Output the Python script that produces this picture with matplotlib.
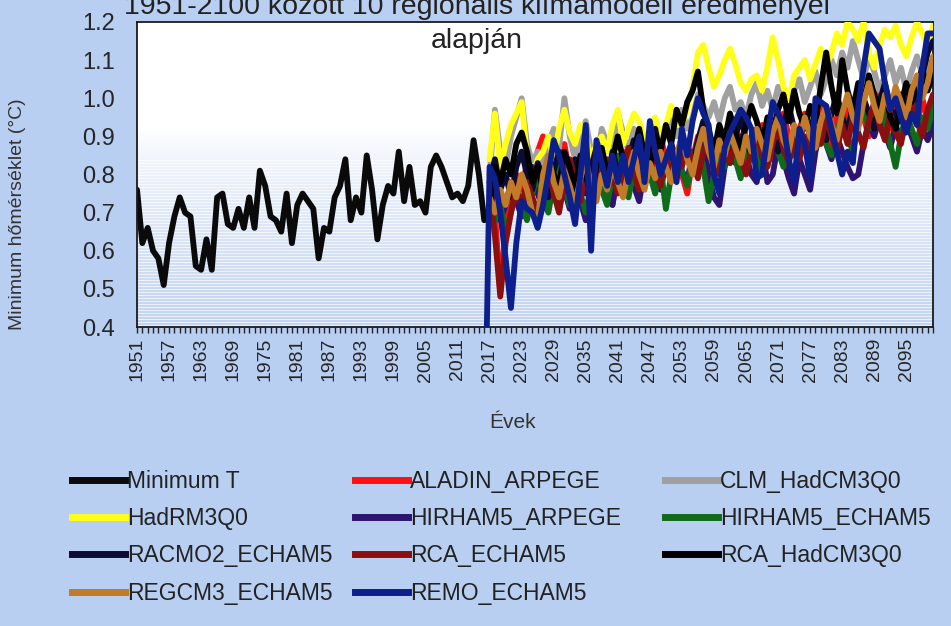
import numpy as np
import matplotlib.pyplot as plt
from matplotlib.lines import Line2D

plt.rcParams.update({
    "font.family": ["Liberation Sans", "DejaVu Sans"],
    "text.color": "#222222",
})

years = np.arange(1951, 2101)
obs_years = np.arange(1951, 2017)
model_years = np.arange(2016, 2101)

# observed minimum temperature anomaly, 1951-2016
min_t = [0.76, 0.62, 0.66, 0.60, 0.58, 0.51, 0.62, 0.69, 0.74, 0.70,
         0.69, 0.56, 0.55, 0.63, 0.55, 0.74, 0.75, 0.67, 0.66, 0.71,
         0.66, 0.74, 0.66, 0.81, 0.77, 0.69, 0.68, 0.65, 0.75, 0.62,
         0.72, 0.75, 0.73, 0.71, 0.58, 0.66, 0.65, 0.74, 0.77, 0.84,
         0.68, 0.74, 0.70, 0.85, 0.76, 0.63, 0.72, 0.77, 0.75, 0.86,
         0.73, 0.82, 0.72, 0.73, 0.70, 0.82, 0.85, 0.82, 0.78, 0.74,
         0.75, 0.73, 0.77, 0.89, 0.80, 0.68]

nan = np.nan
# regional climate models, 2016-2100 (2016 only set where the source row had it)
aladin_arpege = [nan,
    0.78, 0.70, 0.49, 0.66, 0.74, 0.80, 0.76, 0.83, 0.79, 0.86,
    0.90, 0.84, 0.78, 0.82, 0.88, 0.80, 0.76, 0.84, 0.80, 0.72,
    0.80, 0.84, 0.78, 0.72, 0.82, 0.86, 0.80, 0.88, 0.84, 0.78,
    0.86, 0.82, 0.90, 0.84, 0.80, 0.86, 0.80, 0.75, 0.84, 0.90,
    0.86, 0.82, 0.88, 0.84, 0.90, 0.86, 0.93, 0.88, 0.84, 0.90,
    0.86, 0.93, 0.88, 0.84, 0.91, 0.96, 0.90, 0.86, 0.92, 0.96,
    0.90, 0.95, 0.99, 0.93, 0.88, 0.95, 0.91, 0.97, 0.92, 1.00,
    0.95, 0.90, 0.97, 1.02, 0.96, 0.92, 0.99, 0.94, 1.03, 0.97,
    0.93, 1.00, 0.94, 0.96]
clm_hadcm3q0 = [nan,
    0.80, 0.97, 0.86, 0.82, 0.90, 0.95, 1.00, 0.88, 0.83, 0.86,
    0.82, 0.88, 0.92, 0.87, 1.00, 0.90, 0.84, 0.89, 0.94, 0.86,
    0.83, 0.92, 0.88, 0.85, 0.96, 0.91, 0.86, 0.92, 0.88, 0.84,
    0.90, 0.93, 0.87, 0.91, 0.95, 0.90, 0.97, 0.92, 0.95, 1.01,
    0.98, 0.95, 0.99, 0.94, 1.00, 1.03, 0.97, 0.99, 0.95, 1.01,
    1.04, 0.98, 1.02, 0.97, 1.03, 1.00, 0.96, 1.02, 1.05, 0.99,
    1.03, 1.07, 1.01, 1.05, 1.10, 1.06, 1.12, 1.08, 1.15, 1.10,
    1.05, 1.11, 1.07, 1.02, 1.06, 1.10, 1.04, 1.08, 1.02, 1.07,
    1.11, 1.06, 1.09, 1.10]
hadrm3q0 = [nan,
    0.84, 0.96, 0.82, 0.88, 0.93, 0.96, 0.99, 0.85, 0.80, 0.84,
    0.86, 0.90, 0.84, 0.92, 0.97, 0.91, 0.88, 0.93, 0.90, 0.84,
    0.88, 0.90, 0.86, 0.93, 0.97, 0.88, 0.92, 0.96, 0.94, 0.89,
    0.92, 0.95, 0.90, 0.93, 0.98, 0.93, 0.93, 0.97, 1.03, 1.12,
    1.14, 1.08, 1.03, 1.06, 1.10, 1.13, 1.09, 1.04, 1.02, 1.05,
    1.06, 1.02, 1.08, 1.16, 1.10, 1.03, 0.99, 1.06, 1.08, 1.10,
    1.05, 1.09, 1.13, 1.08, 1.12, 1.17, 1.14, 1.20, 1.18, 1.15,
    1.20, 1.12, 1.08, 1.14, 1.18, 1.16, 1.19, 1.14, 1.11, 1.16,
    1.20, 1.17, 1.14, 1.19]
hirham5_arpege = [nan,
    0.70, 0.76, 0.68, 0.72, 0.78, 0.73, 0.69, 0.76, 0.82, 0.75,
    0.71, 0.78, 0.74, 0.80, 0.76, 0.71, 0.78, 0.73, 0.68, 0.69,
    0.77, 0.83, 0.76, 0.72, 0.80, 0.76, 0.82, 0.77, 0.73, 0.81,
    0.86, 0.80, 0.76, 0.83, 0.79, 0.85, 0.81, 0.78, 0.86, 0.82,
    0.88, 0.80, 0.74, 0.72, 0.82, 0.87, 0.83, 0.90, 0.85, 0.80,
    0.78, 0.87, 0.78, 0.80, 0.88, 0.84, 0.79, 0.75, 0.84, 0.80,
    0.76, 0.86, 0.92, 0.88, 0.84, 0.90, 0.86, 0.82, 0.79, 0.80,
    0.88, 0.94, 0.90, 0.95, 0.91, 0.87, 0.93, 0.89, 0.94, 0.90,
    0.86, 0.92, 0.89, 0.93]
hirham5_echam5 = [nan,
    0.74, 0.68, 0.72, 0.65, 0.70, 0.76, 0.72, 0.68, 0.75, 0.80,
    0.74, 0.70, 0.78, 0.83, 0.77, 0.72, 0.79, 0.75, 0.70, 0.77,
    0.82, 0.76, 0.72, 0.80, 0.85, 0.79, 0.74, 0.81, 0.77, 0.84,
    0.80, 0.75, 0.82, 0.71, 0.80, 0.86, 0.81, 0.77, 0.84, 0.88,
    0.82, 0.73, 0.80, 0.86, 0.82, 0.88, 0.84, 0.79, 0.86, 0.90,
    0.84, 0.80, 0.87, 0.92, 0.86, 0.82, 0.89, 0.85, 0.91, 0.87,
    0.83, 0.90, 0.94, 0.88, 0.85, 0.91, 0.96, 0.90, 0.86, 0.93,
    0.97, 0.92, 0.95, 1.00, 0.94, 0.88, 0.82, 0.90, 0.96, 0.92,
    0.88, 0.95, 0.92, 0.98]
racmo2_echam5 = [nan,
    0.78, 0.84, 0.76, 0.80, 0.74, 0.82, 0.86, 0.80, 0.76, 0.83,
    0.79, 0.74, 0.81, 0.86, 0.80, 0.77, 0.84, 0.79, 0.75, 0.82,
    0.87, 0.81, 0.78, 0.86, 0.81, 0.77, 0.84, 0.89, 0.83, 0.80,
    0.87, 0.92, 0.85, 0.81, 0.88, 0.84, 0.90, 0.86, 0.82, 0.89,
    0.94, 0.88, 0.84, 0.91, 0.87, 0.83, 0.90, 0.95, 0.89, 0.85,
    0.92, 0.88, 0.94, 0.90, 0.86, 0.93, 0.98, 0.92, 0.88, 0.95,
    0.91, 0.97, 0.93, 0.89, 0.96, 1.01, 0.95, 0.91, 0.98, 0.94,
    1.00, 0.96, 0.92, 0.99, 1.04, 0.98, 0.94, 1.01, 0.97, 1.03,
    0.99, 1.06, 1.12, 1.15]
rca_echam5 = [nan,
    0.76, 0.64, 0.48, 0.62, 0.70, 0.76, 0.72, 0.78, 0.74, 0.70,
    0.77, 0.82, 0.75, 0.70, 0.78, 0.84, 0.79, 0.73, 0.80, 0.76,
    0.82, 0.78, 0.84, 0.80, 0.75, 0.82, 0.87, 0.80, 0.76, 0.83,
    0.88, 0.82, 0.77, 0.85, 0.80, 0.86, 0.82, 0.88, 0.83, 0.79,
    0.86, 0.90, 0.84, 0.80, 0.87, 0.83, 0.89, 0.85, 0.80, 0.86,
    0.91, 0.85, 0.82, 0.88, 0.93, 0.87, 0.83, 0.89, 0.84, 0.90,
    0.86, 0.92, 0.88, 0.95, 0.90, 0.86, 0.93, 0.88, 0.95, 0.91,
    0.87, 0.94, 0.99, 0.93, 0.89, 0.96, 0.91, 0.88, 0.95, 1.00,
    0.94, 0.90, 0.97, 1.01]
rca_hadcm3q0 = [nan,
    0.72, 0.82, 0.78, 0.84, 0.80, 0.88, 0.91, 0.86, 0.78, 0.82,
    0.76, 0.84, 0.80, 0.77, 0.86, 0.82, 0.76, 0.85, 0.80, 0.74,
    0.82, 0.87, 0.80, 0.84, 0.90, 0.84, 0.79, 0.86, 0.92, 0.85,
    0.82, 0.90, 0.86, 0.93, 0.88, 0.97, 0.93, 0.99, 1.02, 1.07,
    0.97, 0.92, 0.86, 0.93, 0.89, 0.96, 0.91, 0.86, 0.93, 0.98,
    0.94, 0.88, 0.95, 0.91, 0.97, 1.01, 0.94, 1.02, 0.96, 0.92,
    0.98, 0.94, 1.03, 1.12, 1.03, 0.96, 1.10, 1.02, 0.97, 1.04,
    0.99, 1.06, 1.01, 0.96, 1.02, 0.95, 0.92, 0.98, 1.04, 0.99,
    1.03, 1.08, 1.02, 1.06]
regcm3_echam5 = [nan,
    0.74, 0.70, 0.76, 0.72, 0.78, 0.74, 0.80, 0.76, 0.70, 0.68,
    0.80, 0.85, 0.78, 0.74, 0.81, 0.77, 0.72, 0.79, 0.84, 0.77,
    0.73, 0.80, 0.76, 0.82, 0.78, 0.74, 0.81, 0.86, 0.80, 0.76,
    0.83, 0.79, 0.86, 0.82, 0.78, 0.85, 0.90, 0.84, 0.80, 0.87,
    0.92, 0.86, 0.82, 0.89, 0.85, 0.91, 0.87, 0.83, 0.90, 0.86,
    0.92, 0.88, 0.84, 0.91, 0.95, 0.89, 0.86, 0.93, 0.89, 0.95,
    0.90, 0.87, 0.94, 0.98, 0.93, 0.89, 0.96, 1.01, 0.95, 0.92,
    0.99, 1.04, 0.98, 0.94, 1.01, 0.97, 1.03, 0.99, 0.95, 1.02,
    1.06, 1.00, 1.04, 1.11]
remo_echam5 = [0.0,
    0.82, 0.79, 0.70, 0.58, 0.45, 0.62, 0.73, 0.71, 0.70, 0.66,
    0.72, 0.80, 0.89, 0.85, 0.80, 0.74, 0.67, 0.80, 0.93, 0.60,
    0.89, 0.83, 0.77, 0.85, 0.78, 0.85, 0.78, 0.84, 0.90, 0.78,
    0.94, 0.86, 0.80, 0.84, 0.88, 0.78, 0.92, 0.85, 0.94, 1.00,
    0.96, 0.93, 0.80, 0.75, 0.87, 0.91, 0.94, 0.97, 0.95, 0.92,
    0.79, 0.80, 0.90, 0.99, 0.96, 0.93, 0.84, 0.78, 0.92, 0.88,
    0.79, 1.00, 0.99, 0.98, 0.92, 0.86, 0.80, 0.86, 0.83, 0.98,
    1.08, 1.17, 1.15, 1.13, 1.04, 0.97, 1.00, 0.95, 0.91, 0.96,
    0.93, 1.08, 1.17, 1.17]

names = ["Minimum T", "ALADIN_ARPEGE", "CLM_HadCM3Q0", "HadRM3Q0",
         "HIRHAM5_ARPEGE", "HIRHAM5_ECHAM5", "RACMO2_ECHAM5", "RCA_ECHAM5",
         "RCA_HadCM3Q0", "REGCM3_ECHAM5", "REMO_ECHAM5"]
colors = ["#0a0a0a", "#ff1010", "#a0a0a0", "#ffff1a", "#2e1470", "#0f6a1a",
          "#0b0b33", "#8a1010", "#000000", "#c07a28", "#0c1f8c"]
series = [min_t, aladin_arpege, clm_hadcm3q0, hadrm3q0, hirham5_arpege,
          hirham5_echam5, racmo2_echam5, rca_echam5, rca_hadcm3q0,
          regcm3_echam5, remo_echam5]

W, H = 951, 626
fig = plt.figure(figsize=(W / 100, H / 100), dpi=100)
fig.patch.set_facecolor("#b8cff2")

ax = fig.add_axes([137 / W, 1 - 327 / H, (933 - 137) / W, (327 - 22) / H])

# plot-area fill: white at the top fading into pale blue with light banding
rows = 305
t = np.linspace(0, 1, rows)
mix = np.clip((t - 0.35) / 0.65, 0, 1) ** 0.8
white = np.array([1.0, 1.0, 1.0])
blue = np.array([0.76, 0.83, 0.94])
bg = white[None, :] * (1 - mix[:, None]) + blue[None, :] * mix[:, None]
band = (np.arange(rows) % 3 == 0) & (t > 0.45)
bg[band] = bg[band] * 0.35 + 0.65
ax.imshow(bg[:, None, :], extent=[1951, 2100, 0.4, 1.2], aspect="auto",
          interpolation="nearest", zorder=0)

for i, (name, col, vals) in enumerate(zip(names, colors, series)):
    xs = obs_years if i == 0 else model_years
    ax.plot(xs, vals, color=col, lw=4.2, label=name, zorder=2 + i,
            solid_joinstyle="round", solid_capstyle="round")

ax.set_xlim(1951, 2100)
ax.set_ylim(0.4, 1.2)
ax.set_xticks(np.arange(1951, 2100, 6))
ax.set_xticks(years, minor=True)
ax.tick_params(axis="x", which="both", direction="out", length=4, width=1,
               color="#222222", labelsize=14, labelrotation=90, pad=4,
               labelcolor="#262626")
ax.set_yticks(np.arange(0.4, 1.21, 0.1))
ax.set_yticklabels([f"{v:.1f}" for v in np.arange(0.4, 1.21, 0.1)])
ax.tick_params(axis="y", length=0, labelsize=17, pad=16, labelcolor="#262626")
for sp in ax.spines.values():
    sp.set_color("#1a1a1a")
    sp.set_linewidth(1.3)

fig.text(477 / W, 1 - 14 / H, "1951-2100 között 10 regionális klímamodell eredményei",
         ha="center", va="baseline", fontsize=20.5, color="#222222")
fig.text(477 / W, 1 - 48 / H, "alapján", ha="center", va="baseline",
         fontsize=20.5, color="#222222")
fig.text(18 / W, 1 - 214 / H, "Minimum hőmérséklet (°C)", rotation=90,
         ha="center", va="center", fontsize=14, color="#333333")
fig.text(513 / W, 1 - 422 / H, "Évek", ha="center", va="center",
         fontsize=15, color="#333333")

# legend laid out in three fixed-width columns, filled row by row
col_x = [72, 355, 665]
for c in range(3):
    idx = list(range(c, len(names), 3))
    handles = [Line2D([], [], color=colors[k], lw=5) for k in idx]
    fig.legend(handles, [names[k] for k in idx], loc="upper left",
               bbox_to_anchor=(col_x[c] / W, 1 - 470 / H), frameon=False,
               fontsize=16.5, handlelength=2.3, handletextpad=0.1,
               borderpad=0, borderaxespad=0, labelspacing=0.62)

fig.savefig("out.png", dpi=100, facecolor=fig.get_facecolor())
